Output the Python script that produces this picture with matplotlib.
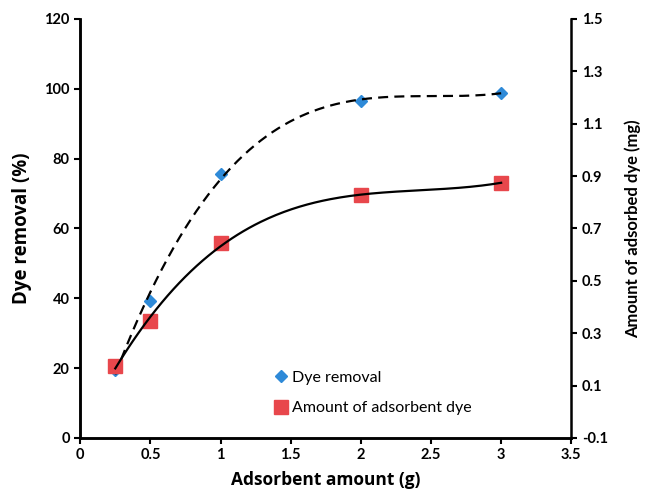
import numpy as np
import matplotlib
matplotlib.use("Agg")
import matplotlib.pyplot as plt

# values
adsorbent_g   = [0.25, 0.5, 1.0, 2.0, 3.0]
dye_removal   = [19.5, 39.3, 75.6, 96.5, 98.8]      # %
amount_ads_mg = [0.175, 0.345, 0.643, 0.826, 0.875]  # mg

x_ticks  = [0, 0.5, 1, 1.5, 2, 2.5, 3, 3.5]
y1_ticks = [0, 20, 40, 60, 80, 100, 120]
y2_ticks = [-0.1, 0.1, 0.3, 0.5, 0.7, 0.9, 1.1, 1.3, 1.5]

plt.rcParams["font.family"] = ["Lato", "DejaVu Sans"]

fig = plt.figure(figsize=(6.47, 4.98), dpi=100)
ax = fig.add_axes([0.124, 0.1205, 0.759, 0.8415])
ax2 = ax.twinx()

# 3rd order polynomial trendlines over the data range (like Excel)
xs = np.linspace(min(adsorbent_g), max(adsorbent_g), 200)
fit1 = np.polyfit(adsorbent_g, dye_removal, 3)
fit2 = np.polyfit(adsorbent_g, amount_ads_mg, 3)

h1, = ax.plot(adsorbent_g, dye_removal, linestyle="none", marker="D",
              ms=6.5, color="#2E8AD8", label="Dye removal", zorder=3)
h2, = ax2.plot(adsorbent_g, amount_ads_mg, linestyle="none", marker="s",
               ms=9.5, color="#E8474C", label="Amount of adsorbent dye", zorder=3)
ax.plot(xs, np.polyval(fit1, xs), color="black", lw=1.6,
        linestyle=(0, (4.5, 2.8)), zorder=4)
ax2.plot(xs, np.polyval(fit2, xs), color="black", lw=1.6, zorder=4)

ax.set_xlim(0, 3.5)
ax.set_ylim(0, 120)
ax2.set_ylim(-0.1, 1.5)
ax.set_xticks(x_ticks)
ax.set_xticklabels([f"{v:g}" for v in x_ticks])
ax.set_yticks(y1_ticks)
ax2.set_yticks(y2_ticks)
ax2.set_yticklabels([f"{v:g}" for v in y2_ticks])

for a in (ax, ax2):
    a.spines["top"].set_visible(False)
    for s in ("left", "right", "bottom"):
        a.spines[s].set_linewidth(1.8)
    a.tick_params(direction="out", length=4, width=1.5, labelsize=10.5)
    for lbl in a.get_xticklabels() + a.get_yticklabels():
        lbl.set_fontweight("bold")
ax.spines["right"].set_visible(False)

ax.set_xlabel("Adsorbent amount (g)", fontsize=12.5, fontweight="bold",
              family=["Open Sans", "DejaVu Sans"], labelpad=6)
ax.set_ylabel("Dye removal (%)", fontsize=13.5, fontweight="bold",
              family=["Open Sans", "DejaVu Sans"], labelpad=9)
ax2.set_ylabel("Amount of adsorbed dye (mg)", fontsize=12, fontweight="bold",
               labelpad=12)

ax.legend(handles=[h1, h2], loc="lower left", bbox_to_anchor=(0.36, 0.02),
          frameon=False, fontsize=11.5, handletextpad=0.1, handlelength=1.2,
          labelspacing=1.0)

fig.savefig("out.png", dpi=100)
